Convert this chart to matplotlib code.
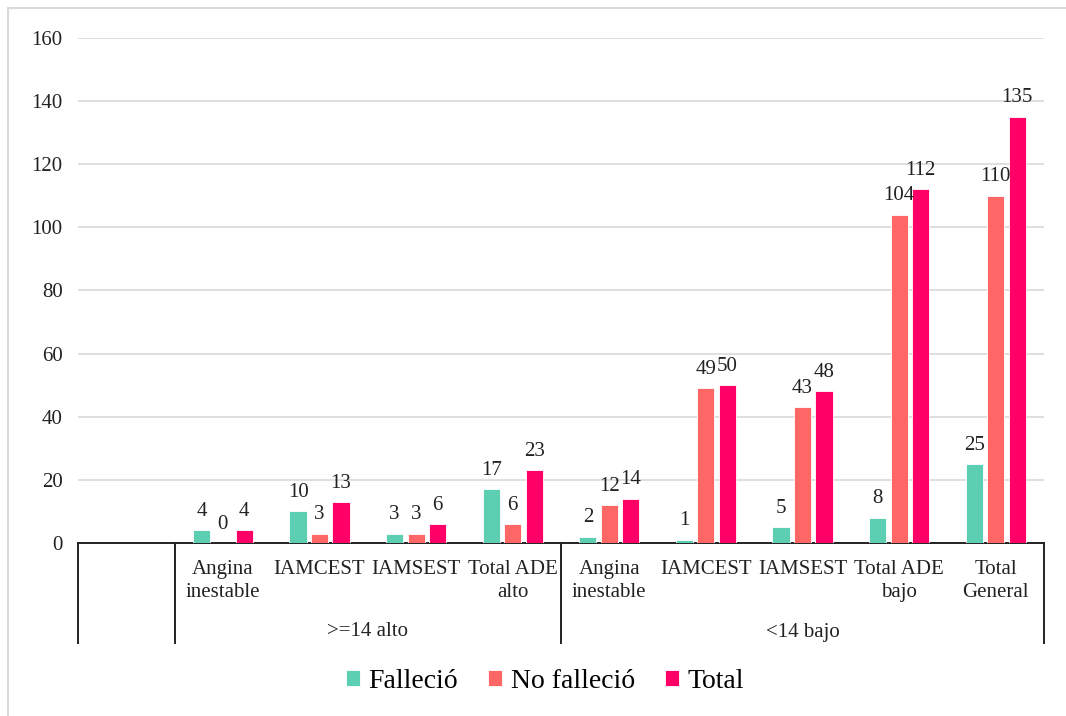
import matplotlib
matplotlib.use("Agg")
import matplotlib.pyplot as plt
from matplotlib.lines import Line2D
from matplotlib.patches import Rectangle
import numpy as np

plt.rcParams['font.family'] = ['Liberation Serif', 'DejaVu Serif']

categories = ["", "Angina\ninestable", "IAMCEST", "IAMSEST", "Total ADE\nalto",
              "Angina\ninestable", "IAMCEST", "IAMSEST", "Total ADE\nbajo", "Total\nGeneral"]
groups = [">=14 alto", "<14 bajo"]
group_spans = [(1, 5), (5, 10)]
series = ["Falleció", "No falleció", "Total"]
fallecio = [None, 4, 10, 3, 17, 2, 1, 5, 8, 25]
no_fallecio = [None, 0, 3, 3, 6, 12, 49, 43, 104, 110]
total = [None, 4, 13, 6, 23, 14, 50, 48, 112, 135]
colors = ["#5CCFB2", "#FF6666", "#FF0066"]
yticks = [0, 20, 40, 60, 80, 100, 120, 140, 160]

W, H = 1066, 716
FS = 15
fig = plt.figure(figsize=(W / 100, H / 100), dpi=100)
ax = fig.add_axes([78 / W, (H - 543) / H, (1044 - 78) / W, (543 - 38) / H])

n = len(categories)
centers = np.arange(n) + 0.5
step = 0.222
width = 0.178
for k, (vals, col, name) in enumerate(zip([fallecio, no_fallecio, total], colors, series)):
    xs = [c + (k - 1) * step for c, v in zip(centers, vals) if v is not None]
    vs = [v for v in vals if v is not None]
    ax.bar(xs, vs, width=width, color=col, edgecolor="white", linewidth=0.6,
           label=name, zorder=3)
    for x, v in zip(xs, vs):
        ax.text(x, v + 3.0, str(v), ha="center", va="bottom", fontsize=FS,
                color="#222222", zorder=4)

ax.set_xlim(0, n)
ax.set_ylim(0, 160)
ax.set_yticks(yticks)
ax.tick_params(axis="y", length=0, pad=11, labelsize=FS, labelcolor="#222222")
ax.set_xticks([])
for s in ["top", "right", "left"]:
    ax.spines[s].set_visible(False)
ax.spines["bottom"].set_color("#222222")
ax.spines["bottom"].set_linewidth(1.4)
ax.grid(axis="y", color="#D9D9D9", linewidth=1.2, zorder=0)
ax.set_axisbelow(True)

# multi-level category axis drawn below the plot
trans = ax.get_xaxis_transform()
px = 1.0 / (543 - 38)
y_bottom = -(643 - 543) * px
for xb in [0, 1, 5, 10]:
    ax.add_line(Line2D([xb, xb], [0, y_bottom], transform=trans, color="#222222",
                       linewidth=1.4, clip_on=False))
for c, lab in zip(centers, categories):
    if lab:
        ax.text(c, -(560 - 543) * px, lab, transform=trans, ha="center", va="top",
                fontsize=FS, color="#222222", linespacing=1.32)
for (a, b), g in zip(group_spans, groups):
    ax.text((a + b) / 2, -(632 - 543) * px, g, transform=trans, ha="center",
            va="center", fontsize=FS, color="#222222")

fig.legend(loc="center", bbox_to_anchor=(545 / W, (H - 681) / H), ncol=3,
           frameon=False, fontsize=20, handlelength=0.5, handleheight=0.5,
           handletextpad=0.3, columnspacing=1.1)

# outer chart frame
fig.patches.append(Rectangle((8 / W, -0.01), 1.02 - 8 / W, (H - 8) / H + 0.01,
                             transform=fig.transFigure, fill=False,
                             edgecolor="#D9D9D9", linewidth=1.5))

fig.savefig("out.png", dpi=100)
